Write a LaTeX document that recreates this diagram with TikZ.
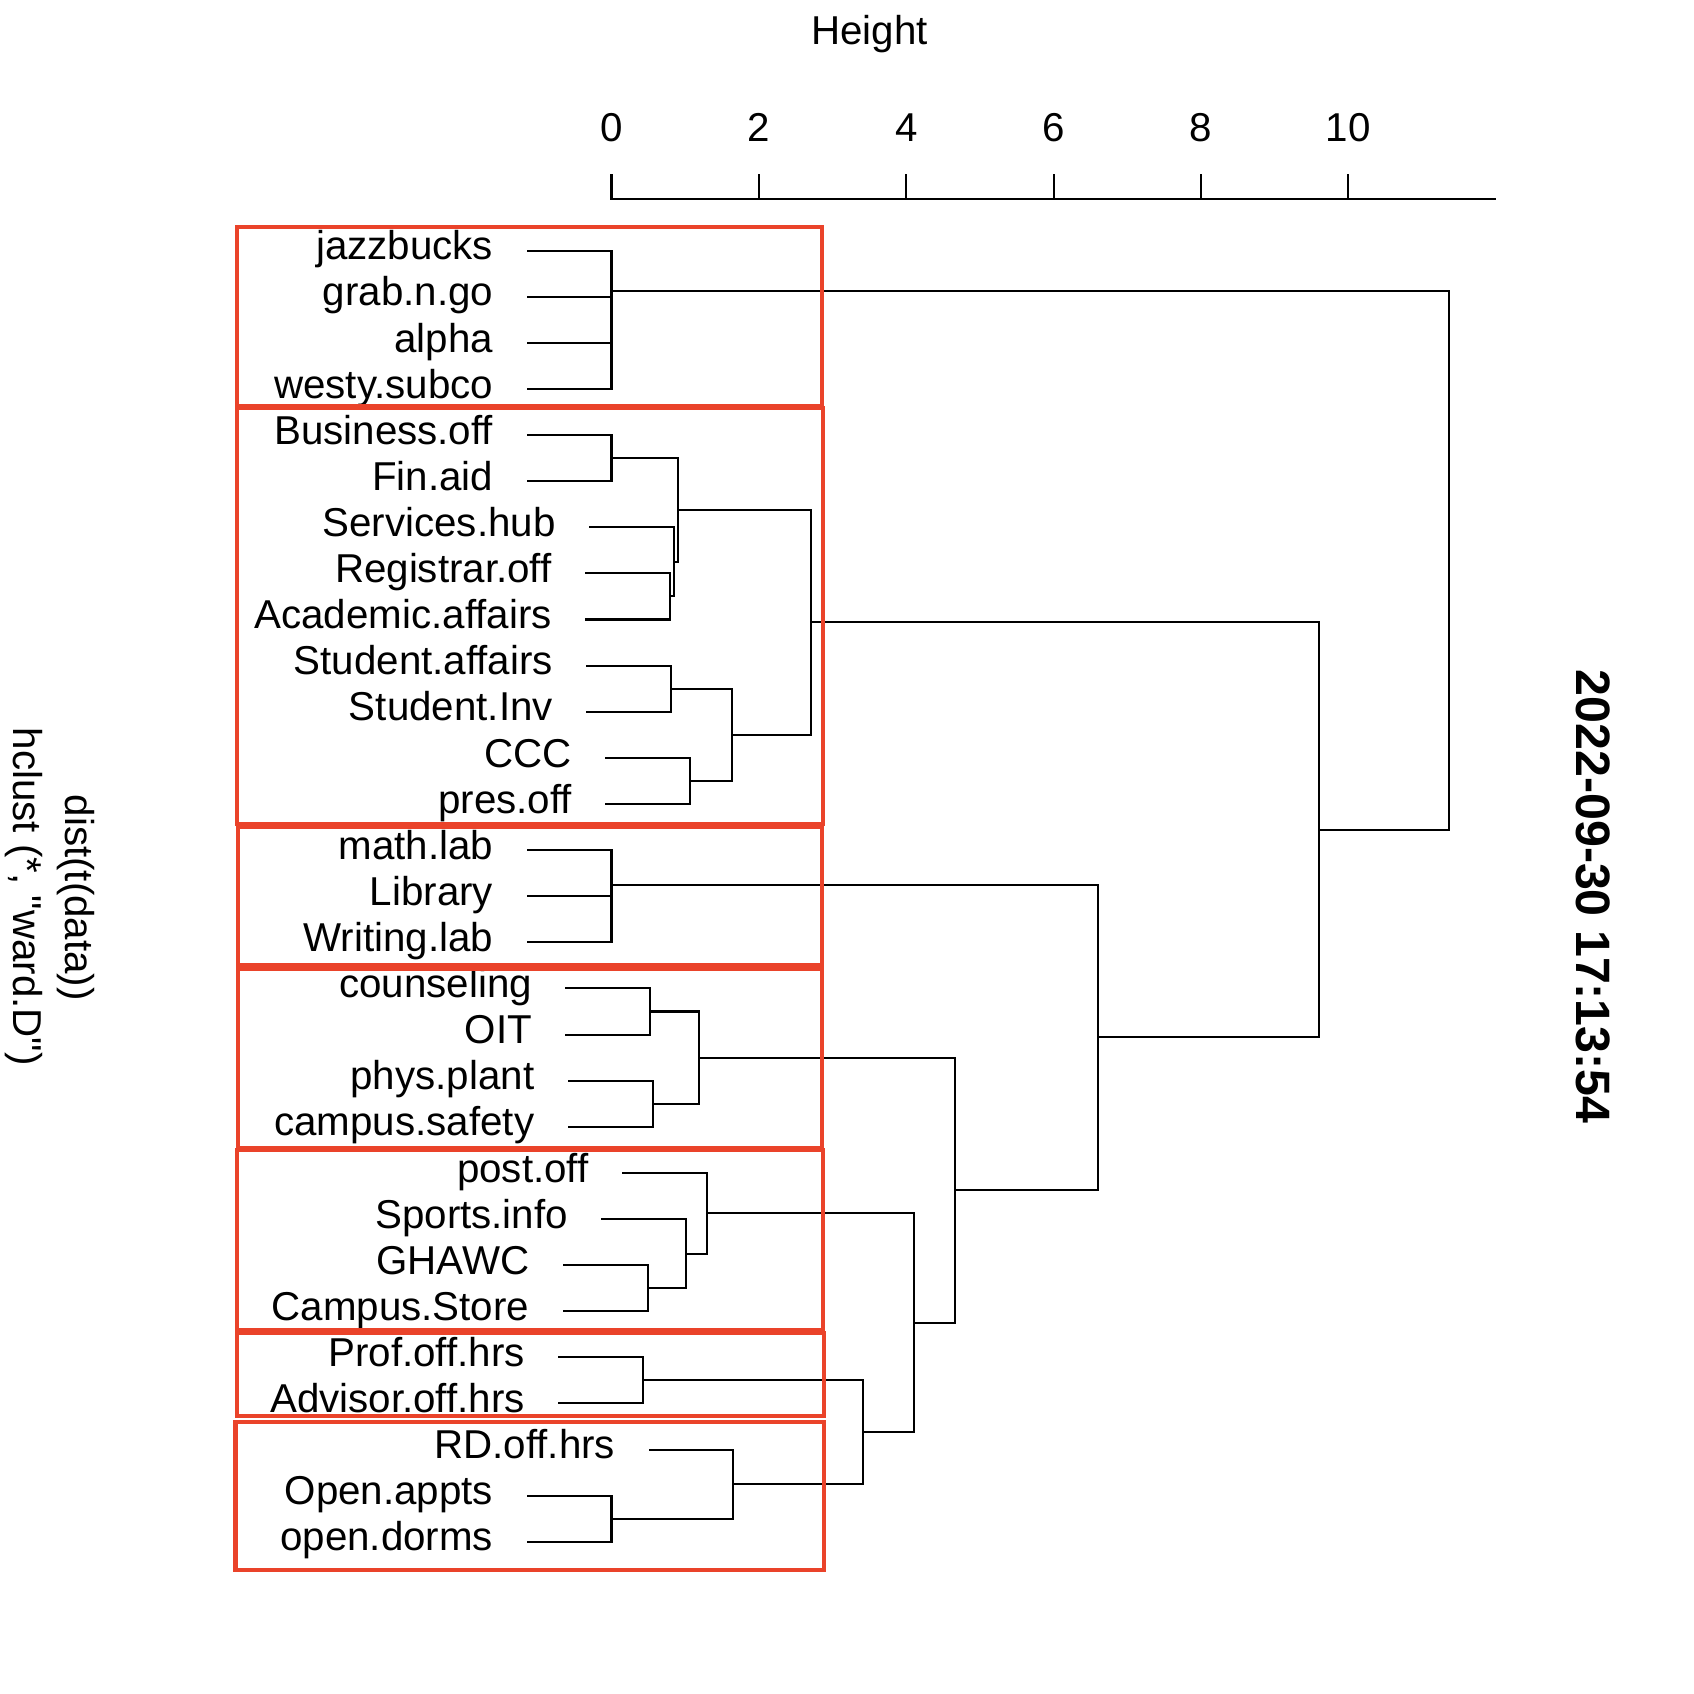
\documentclass[tikz,border=0pt]{standalone}
\usepackage{fontspec}
\setmainfont{Liberation Sans}
\setmonofont{Liberation Sans}
\definecolor{boxred}{RGB}{234,67,42}
\newcommand{\dleaf}[4]{%
  \coordinate (#1) at (#2,#3);
  \node[lab] (#1-l) at ({#2-31.6},{#3+8.5}) {#4};}
\newcommand{\dmerge}[5]{%
  \coordinate (#1) at (#2,#3);
  \draw[tree] (#4) -| (#1) |- (#5);}
\newcommand{\sq}{{\ttfamily"}}
\begin{document}
\begin{tikzpicture}[x=0.5pt,y=-0.5pt]
\tikzset{
  lab/.style={font=\fontsize{18.65}{22}\selectfont, inner sep=0pt, anchor=base east},
  tick/.style={font=\fontsize{18.65}{22}\selectfont, inner sep=0pt, anchor=base},
  tree/.style={line width=0.95pt, line cap=rect},
  redbox/.style={draw=boxred, line width=1.9pt},
  side/.style={font=\fontsize{18.65}{22}\selectfont, inner sep=0pt, rotate=-90},
}
\useasboundingbox (0,0) rectangle (1568,1568);
% axis
\node[tick] (title) at (805,41.3) {Height};
\draw[tree] (566,184) -- (1384,184);
\foreach \v/\x in {0/566,2/702.4,4/838.8,6/975.2,8/1111.6,10/1248}{
  \node[tick] (tk\v) at (\x,131.3) {\v};
  \draw[tree] (\x,162) -- (\x,184);
}
% side texts
\node[side] (xlab) at (70,831) {dist(t(data))};
\node[side] (sub) at (22,830) {hclust (*, \sq ward.D\sq)};
\node[side, font=\bfseries\fontsize{22.35}{26}\selectfont] (stamp) at (1475,830) {2022-09-30 17:13:54};
% leaves
\dleaf{L1}{488.4}{232.0}{jazzbucks}
\dleaf{L2}{488.4}{274.7}{grab.n.go}
\dleaf{L3}{488.4}{317.4}{alpha}
\dleaf{L4}{488.4}{360.0}{westy.subco}
\dleaf{L5}{488.4}{402.7}{Business.off}
\dleaf{L6}{488.4}{445.4}{Fin.aid}
\dleaf{L7}{546.2}{488.1}{Services.hub}
\dleaf{L8}{542.6}{530.8}{Registrar.off}
\dleaf{L9}{542.6}{573.4}{Academic.affairs}
\dleaf{L10}{543.7}{616.1}{Student.affairs}
\dleaf{L11}{543.7}{658.8}{Student.Inv}
\dleaf{L12}{561.3}{701.5}{CCC}
\dleaf{L13}{561.3}{744.2}{pres.off}
\dleaf{L14}{488.4}{786.8}{math.lab}
\dleaf{L15}{488.4}{829.5}{Library}
\dleaf{L16}{488.4}{872.2}{Writing.lab}
\dleaf{L17}{524.3}{914.9}{counseling}
\dleaf{L18}{524.3}{957.6}{OIT}
\dleaf{L19}{526.5}{1000.2}{phys.plant}
\dleaf{L20}{526.5}{1042.9}{campus.safety}
\dleaf{L21}{576.8}{1085.6}{post.off}
\dleaf{L22}{557.7}{1128.3}{Sports.info}
\dleaf{L23}{521.8}{1171.0}{GHAWC}
\dleaf{L24}{521.8}{1213.6}{Campus.Store}
\dleaf{L25}{517.7}{1256.3}{Prof.off.hrs}
\dleaf{L26}{517.7}{1299.0}{Advisor.off.hrs}
\dleaf{L27}{601.3}{1341.7}{RD.off.hrs}
\dleaf{L28}{488.4}{1384.4}{Open.appts}
\dleaf{L29}{488.4}{1427.0}{open.dorms}
% merges
\dmerge{g1a}{566}{338.7}{L3}{L4}
\dmerge{g1b}{566}{306.7}{L2}{g1a}
\dmerge{g1}{566}{269.35}{L1}{g1b}
\dmerge{bf}{566}{424.05}{L5}{L6}
\dmerge{ra}{620.2}{552.1}{L8}{L9}
\dmerge{sra}{623.8}{520.1}{L7}{ra}
\dmerge{bfsra}{627.6}{472.1}{bf}{sra}
\dmerge{ss}{621.3}{637.45}{L10}{L11}
\dmerge{cp}{638.9}{722.85}{L12}{L13}
\dmerge{sscp}{677.4}{680.15}{ss}{cp}
\dmerge{g2}{750.8}{576.1}{bfsra}{sscp}
\dmerge{lw}{566}{850.85}{L15}{L16}
\dmerge{g3}{566}{818.8}{L14}{lw}
\dmerge{co}{601.9}{936.25}{L17}{L18}
\dmerge{pc}{604.1}{1021.55}{L19}{L20}
\dmerge{g4}{646.6}{978.9}{co}{pc}
\dmerge{gc}{599.4}{1192.3}{L23}{L24}
\dmerge{sgc}{635.3}{1160.3}{L22}{gc}
\dmerge{g5}{654.4}{1122.95}{L21}{sgc}
\dmerge{pa}{595.3}{1277.65}{L25}{L26}
\dmerge{oo}{566}{1405.7}{L28}{L29}
\dmerge{roo}{678.9}{1373.7}{L27}{oo}
\dmerge{g67}{798.8}{1325.7}{pa}{roo}
\dmerge{g567}{846.3}{1224.3}{g5}{g67}
\dmerge{g4567}{884}{1101.6}{g4}{g567}
\dmerge{g34567}{1016}{960.2}{g3}{g4567}
\dmerge{g27}{1221}{768.15}{g2}{g34567}
\dmerge{root}{1341}{518.75}{g1}{g27}
% red boxes
\draw[redbox] (219,210) rectangle (761,375.8);
\draw[redbox] (219,378) rectangle (762,763);
\draw[redbox] (220,765.5) rectangle (761,893.5);
\draw[redbox] (220,897) rectangle (760.5,1062.5);
\draw[redbox] (219,1064.5) rectangle (761.5,1231);
\draw[redbox] (219,1233.5) rectangle (762.5,1311);
\draw[redbox] (218,1316) rectangle (763,1453.5);
\end{tikzpicture}
\end{document}
